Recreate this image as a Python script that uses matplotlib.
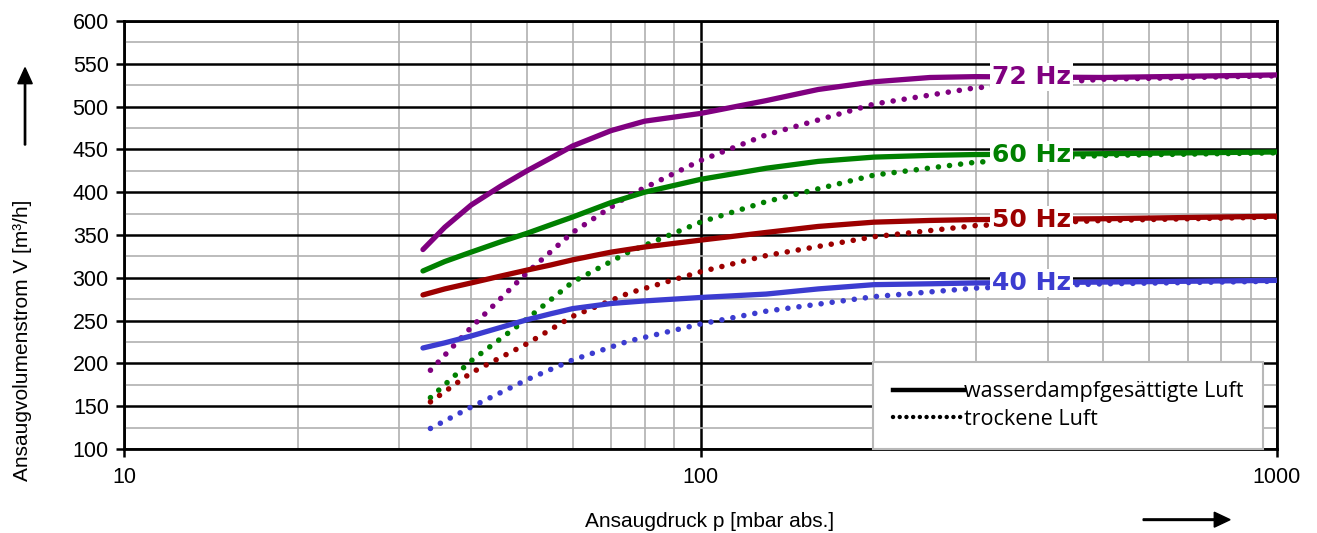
import matplotlib.pyplot as plt
import matplotlib.patches as mpatches
from matplotlib.ticker import FixedLocator, NullFormatter

# pressures [mbar abs.]
p_wet = [33, 36, 40, 45, 50, 55, 60, 70, 80, 100, 130, 160, 200, 250, 300, 500, 1000]
p_dry = [34, 40, 50, 60, 75, 100, 130, 200, 300, 500, 1000]

# water vapour saturated air (solid)
wet_72 = [333, 359, 385, 407, 425, 440, 454, 472, 483, 492, 507, 520, 529, 534, 535, 534, 537]
wet_60 = [308, 319, 330, 342, 352, 362, 371, 388, 400, 415, 428, 436, 441, 443, 444, 445, 447]
wet_50 = [280, 287, 294, 302, 309, 315, 321, 330, 336, 344, 353, 360, 365, 367, 368, 369, 372]
wet_40 = [218, 224, 232, 242, 251, 258, 264, 270, 273, 277, 281, 287, 292, 293, 294, 295, 297]

# dry air (dotted)
dry_72 = [192, 242, 306, 353, 396, 437, 467, 503, 522, 532, 536]
dry_60 = [160, 203, 252, 295, 330, 365, 389, 420, 435, 443, 446]
dry_50 = [155, 189, 223, 255, 282, 307, 326, 348, 361, 367, 371]
dry_40 = [124, 149, 181, 204, 226, 246, 261, 278, 288, 293, 296]

freq_labels = ['72 Hz', '60 Hz', '50 Hz', '40 Hz']
colors = ['#800080', '#008000', '#9c0000', '#3c3cd0']
label_p = 375

plt.rcParams['font.family'] = ['Liberation Sans', 'DejaVu Sans']

fig = plt.figure(figsize=(13.17, 5.33), dpi=100)
ax = fig.add_axes([0.0942, 0.1576, 0.8754, 0.8030])

ax.set_xscale('log')
ax.set_xlim(10, 1000)
ax.set_ylim(100, 600)

# grid: gray minor, black major
ax.set_yticks(range(100, 601, 50))
ax.yaxis.set_minor_locator(FixedLocator(range(125, 600, 50)))
ax.xaxis.set_major_locator(FixedLocator([10, 100, 1000]))
ax.xaxis.set_minor_locator(FixedLocator([k * d for d in (10, 100) for k in range(2, 10)]))
ax.xaxis.set_minor_formatter(NullFormatter())
ax.set_xticklabels(['10', '100', '1000'])
ax.grid(which='minor', color='#b0b0b0', lw=1.2)
ax.grid(which='major', color='black', lw=1.8)
ax.tick_params(which='minor', length=0)
ax.tick_params(which='major', length=6, width=1.8, labelsize=15.5, direction='out')
ax.tick_params(axis='x', pad=7)
ax.tick_params(axis='y', pad=5)
for s in ax.spines.values():
    s.set_linewidth(2)
ax.set_axisbelow(True)

wets = [wet_72, wet_60, wet_50, wet_40]
drys = [dry_72, dry_60, dry_50, dry_40]
for wet, dry, c in zip(wets, drys, colors):
    ax.plot(p_dry, dry, color=c, lw=4.0, linestyle=(0, (0.01, 2.0)),
            dash_capstyle='round', zorder=3)
    ax.plot(p_wet, wet, color=c, lw=3.8, solid_capstyle='round', zorder=4)

for wet, lab, c in zip(wets, freq_labels, colors):
    y = wet[p_wet.index(300)]
    ax.text(label_p, y, lab, color=c, fontsize=18, fontweight='bold',
            family='DejaVu Sans', ha='center', va='center', zorder=5,
            bbox=dict(facecolor='white', edgecolor='none', pad=1.5))

# legend
h1, = ax.plot([], [], color='black', lw=3.2)
h2, = ax.plot([], [], color='black', lw=3.2, linestyle=(0, (0.01, 1.5)), dash_capstyle='round')
leg = ax.legend([h1, h2], ['wasserdampfgesättigte Luft', 'trockene Luft'],
                loc='lower left', bbox_to_anchor=(0.65, 0.0), fancybox=False,
                framealpha=1, edgecolor='#b8b8b8', handlelength=3.3, handletextpad=0,
                borderpad=0.9, borderaxespad=0, labelspacing=0.3,
                prop={'family': 'Open Sans', 'size': 15.5})
leg.get_frame().set_linewidth(1.5)
leg.set_zorder(6)

fig.text(0.017, 0.361, 'Ansaugvolumenstrom V [m³/h]', rotation=90,
         fontsize=15, ha='center', va='center')
fig.text(0.539, 0.021, 'Ansaugdruck p [mbar abs.]', fontsize=15,
         ha='center', va='center')

# arrows beside the axis titles
fig.patches.append(mpatches.FancyArrow(
    0.019, 0.728, 0, 0.145, width=0.001, head_width=0.011, head_length=0.03,
    length_includes_head=True, color='black', transform=fig.transFigure))
fig.patches.append(mpatches.FancyArrow(
    0.868, 0.025, 0.066, 0, width=0.003, head_width=0.028, head_length=0.012,
    length_includes_head=True, color='black', transform=fig.transFigure))

fig.savefig('out.png', dpi=100)
